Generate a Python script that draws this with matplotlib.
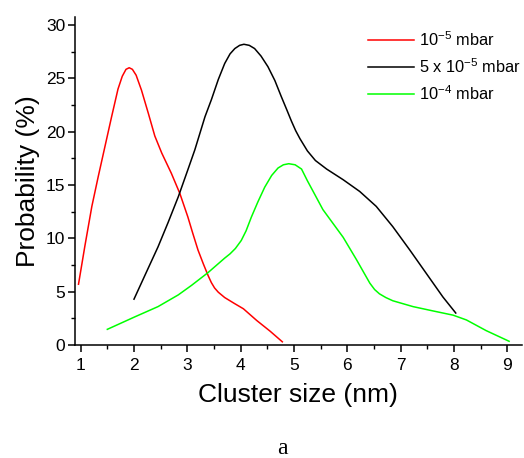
import matplotlib
matplotlib.use("Agg")
import matplotlib.pyplot as plt
from matplotlib.ticker import MultipleLocator

plt.rcParams['font.family'] = ['Liberation Sans', 'DejaVu Sans']
plt.rcParams['mathtext.fontset'] = 'custom'
plt.rcParams['mathtext.rm'] = 'Liberation Sans'
plt.rcParams['mathtext.it'] = 'Liberation Sans'
plt.rcParams['mathtext.default'] = 'regular'

x_low = [0.96, 1.08, 1.21, 1.33, 1.455, 1.58, 1.70, 1.78, 1.85, 1.91, 1.97, 2.04, 2.14,
         2.27, 2.39, 2.52, 2.70, 2.86, 3.01, 3.10, 3.20, 3.30, 3.39, 3.45, 3.51, 3.58,
         3.70, 3.88, 4.05, 4.30, 4.55, 4.78]
y_low = [5.7, 9.3, 13.0, 15.8, 18.6, 21.4, 24.0, 25.2, 25.85, 26.0, 25.85, 25.3, 23.9,
         21.7, 19.6, 18.0, 16.1, 14.2, 12.0, 10.5, 8.9, 7.6, 6.5, 5.85, 5.35, 4.95,
         4.45, 3.9, 3.4, 2.3, 1.3, 0.3]

x_mid = [2.0, 2.22, 2.45, 2.64, 2.83, 3.0, 3.14, 3.33, 3.45, 3.58, 3.70, 3.80, 3.89,
         3.98, 4.06, 4.16, 4.26, 4.38, 4.51, 4.64, 4.76, 4.86, 4.95, 5.03, 5.11, 5.25,
         5.40, 5.61, 5.92, 6.23, 6.54, 6.85, 7.17, 7.48, 7.79, 8.03]
y_mid = [4.3, 6.7, 9.2, 11.5, 13.9, 16.3, 18.3, 21.4, 23.0, 24.9, 26.4, 27.3, 27.8,
         28.1, 28.2, 28.1, 27.8, 27.1, 26.1, 24.8, 23.3, 22.1, 21.0, 20.1, 19.35, 18.2,
         17.3, 16.5, 15.5, 14.4, 13.0, 11.1, 8.9, 6.7, 4.5, 3.0]

x_high = [1.50, 2.02, 2.45, 2.83, 3.08, 3.39, 3.70, 3.80, 3.90, 4.01, 4.10, 4.20, 4.32,
          4.45, 4.58, 4.70, 4.80, 4.90, 5.02, 5.14, 5.25, 5.39, 5.54, 5.73, 5.92, 6.17,
          6.42, 6.51, 6.60, 6.72, 6.85, 7.23, 7.60, 7.98, 8.23, 8.60, 9.03]
y_high = [1.47, 2.65, 3.6, 4.7, 5.6, 6.8, 8.15, 8.55, 9.05, 9.8, 10.7, 12.0, 13.4,
          14.8, 15.9, 16.6, 16.9, 17.0, 16.9, 16.5, 15.4, 14.1, 12.7, 11.4, 10.1, 8.0,
          5.8, 5.2, 4.8, 4.45, 4.15, 3.6, 3.2, 2.8, 2.35, 1.35, 0.35]

labels = ['10$^{-5}$ mbar', '5 x 10$^{-5}$ mbar', '10$^{-4}$ mbar']
colors = ['#ff0000', '#000000', '#00ff00']

fig = plt.figure(figsize=(5.24, 4.58), dpi=100)
ax = fig.add_axes([0.143, 0.2467, 0.853, 0.716])

ax.plot(x_low, y_low, color=colors[0], lw=1.1, label=labels[0])
ax.plot(x_mid, y_mid, color=colors[1], lw=1.1, label=labels[1])
ax.plot(x_high, y_high, color=colors[2], lw=1.1, label=labels[2])

ax.set_xlim(0.893, 9.27)
ax.set_ylim(0, 30.75)
ax.xaxis.set_major_locator(MultipleLocator(1))
ax.xaxis.set_minor_locator(MultipleLocator(0.5))
ax.yaxis.set_major_locator(MultipleLocator(5))
ax.yaxis.set_minor_locator(MultipleLocator(2.5))

for s in ['top', 'right']:
    ax.spines[s].set_visible(False)
for s in ['left', 'bottom']:
    ax.spines[s].set_linewidth(1.1)

ax.tick_params(which='major', direction='out', length=5, width=1.1, labelsize=12.5, pad=2)
ax.tick_params(which='minor', direction='out', length=3, width=1.0)
ax.tick_params(axis='x', which='major', pad=4.5)

ax.set_xlabel('Cluster size (nm)', fontsize=19, labelpad=7)
ax.set_ylabel('Probability (%)', fontsize=19, labelpad=4)

ax.legend(loc='upper left', bbox_to_anchor=(0.638, 0.985), frameon=False, fontsize=11.8,
          handlelength=2.8, handletextpad=0.3, labelspacing=0.5, borderpad=0)

fig.text(0.538, 1 - 448 / 458, 'a', family='Liberation Serif', fontsize=17,
         ha='center', va='center')

fig.savefig('out.png', dpi=100)
